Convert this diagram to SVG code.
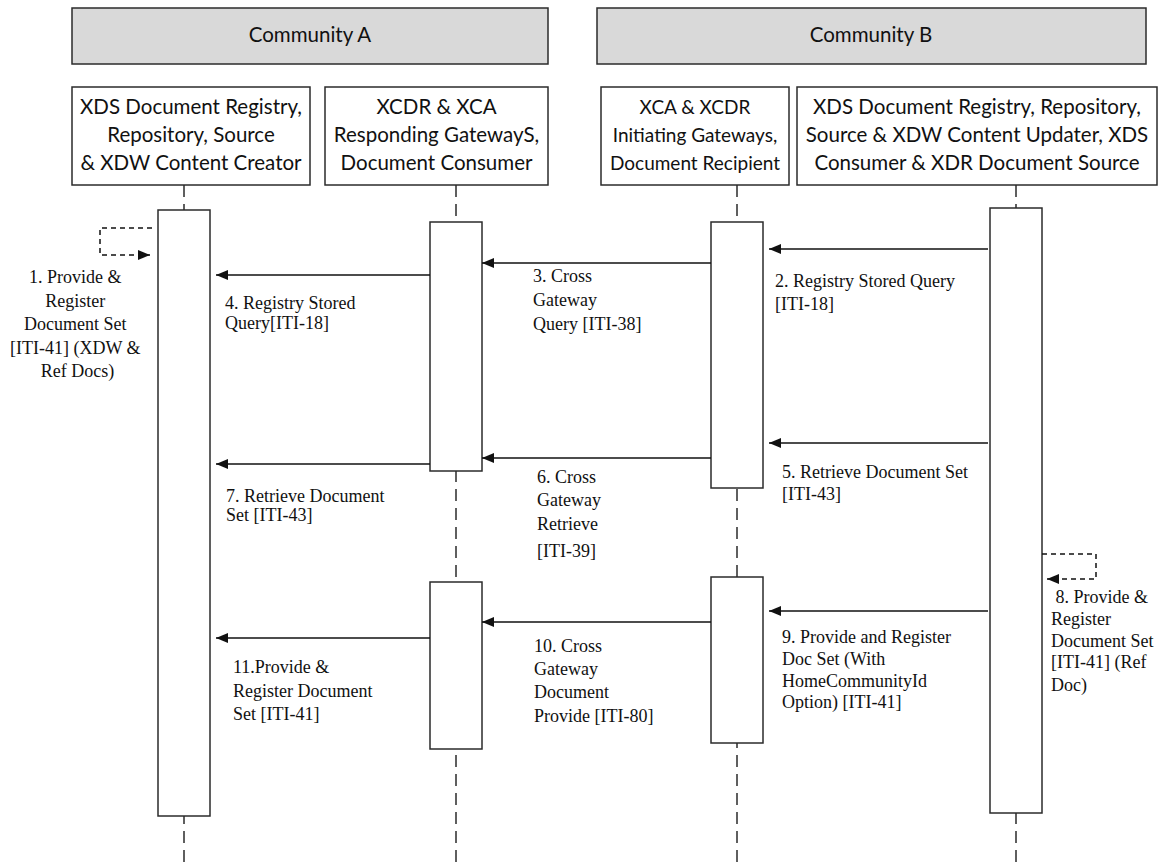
<svg xmlns="http://www.w3.org/2000/svg" width="1164" height="863" viewBox="0 0 1164 863">
<style>
.comm{fill:#d9d9d9;stroke:#2b2b2b;stroke-width:1.5}
.box{fill:#fff;stroke:#2b2b2b;stroke-width:1.5}
.bar{fill:#fff;stroke:#2b2b2b;stroke-width:1.5}
.ct{font-family:Lato,"Liberation Sans",sans-serif;font-size:20.5px;fill:#111;text-anchor:middle}
.ct.sm{font-size:19px}
.lab{font-family:"Liberation Serif","Times New Roman",serif;font-size:18px;fill:#111}
.life{stroke:#2b2b2b;stroke-width:1.5;stroke-dasharray:12 7;fill:none}
.msg{stroke:#111;stroke-width:1.5;fill:none;marker-end:url(#ah)}
.loop{stroke:#111;stroke-width:1.5;fill:none;stroke-dasharray:5 4;marker-end:url(#ah)}
</style>
<defs>
<marker id="ah" markerUnits="userSpaceOnUse" markerWidth="12" markerHeight="10" refX="12" refY="5" orient="auto">
<path d="M0,0 L12,5 L0,10 z" fill="#111"/>
</marker>
</defs>
<rect width="1164" height="863" fill="#fff"/>

<g id="community-a">
<rect class="comm" x="72" y="8" width="476" height="56"/>
<text class="ct" x="310" y="42">Community A</text>
</g>
<g id="community-b">
<rect class="comm" x="597" y="8" width="549" height="56"/>
<text class="ct" x="871" y="42">Community B</text>
</g>

<g id="lifelines">
<line class="life" x1="184" y1="185" x2="184" y2="863"/>
<line class="life" x1="456" y1="185" x2="456" y2="863"/>
<line class="life" x1="737" y1="185" x2="737" y2="863"/>
<line class="life" x1="1016" y1="185" x2="1016" y2="863"/>
</g>

<g id="node1">
<rect class="box" x="72" y="87" width="238" height="98"/>
<text class="ct" x="191" y="114">XDS Document Registry,</text>
<text class="ct" x="191" y="142">Repository, Source</text>
<text class="ct" x="191" y="170">&amp; XDW Content Creator</text>
<rect class="bar" x="158" y="210" width="52" height="606"/>
</g>
<g id="node2">
<rect class="box" x="325" y="87" width="223" height="98"/>
<text class="ct" x="436.5" y="114">XCDR &amp; XCA</text>
<text class="ct" x="436.5" y="142">Responding GatewayS,</text>
<text class="ct" x="436.5" y="170">Document Consumer</text>
<rect class="bar" x="430" y="222" width="52" height="249"/>
<rect class="bar" x="430" y="582" width="52" height="167"/>
</g>
<g id="node3">
<rect class="box" x="601" y="87" width="188" height="98"/>
<text class="ct sm" x="695" y="114">XCA &amp; XCDR</text>
<text class="ct sm" x="695" y="142">Initiating Gateways,</text>
<text class="ct sm" x="695" y="170">Document Recipient</text>
<rect class="bar" x="711" y="222" width="52" height="266"/>
<rect class="bar" x="711" y="577" width="52" height="166"/>
</g>
<g id="node4">
<rect class="box" x="797" y="87" width="360" height="98"/>
<text class="ct" x="977" y="114">XDS Document Registry, Repository,</text>
<text class="ct" x="977" y="142">Source &amp; XDW Content Updater, XDS</text>
<text class="ct" x="977" y="170">Consumer &amp; XDR Document Source</text>
<rect class="bar" x="990" y="208" width="52" height="605"/>
</g>

<g id="connectors">
<path class="loop" d="M152,228 H100 V255 H150"/>
<line class="msg" x1="988" y1="249" x2="769" y2="249"/>
<line class="msg" x1="711" y1="263" x2="482" y2="263"/>
<line class="msg" x1="430" y1="275" x2="216" y2="275"/>
<line class="msg" x1="988" y1="443" x2="769" y2="443"/>
<line class="msg" x1="711" y1="458" x2="482" y2="458"/>
<line class="msg" x1="430" y1="464" x2="216" y2="464"/>
<path class="loop" d="M1042,554 H1096 V579 H1047"/>
<line class="msg" x1="988" y1="611" x2="769" y2="611"/>
<line class="msg" x1="711" y1="622" x2="482" y2="622"/>
<line class="msg" x1="430" y1="638" x2="216" y2="638"/>
</g>

<g id="labels">
<text class="lab" text-anchor="middle">
<tspan x="77.5" y="283">1. Provide &amp;</tspan>
<tspan x="77.5" y="307">Register</tspan>
<tspan x="77.5" y="330">Document Set</tspan>
<tspan x="77.5" y="354">[ITI-41] (XDW &amp;</tspan>
<tspan x="77.5" y="377">Ref Docs)</tspan>
</text>
<text class="lab"><tspan x="775" y="287">2. Registry Stored Query</tspan><tspan x="775" y="310">[ITI-18]</tspan></text>
<text class="lab"><tspan x="533" y="282">3. Cross</tspan><tspan x="533" y="306">Gateway</tspan><tspan x="533" y="330">Query [ITI-38]</tspan></text>
<text class="lab"><tspan x="225" y="309">4. Registry Stored</tspan><tspan x="225" y="329">Query[ITI-18]</tspan></text>
<text class="lab"><tspan x="782" y="478">5. Retrieve Document Set</tspan><tspan x="782" y="500">[ITI-43]</tspan></text>
<text class="lab"><tspan x="537" y="483">6. Cross</tspan><tspan x="537" y="506">Gateway</tspan><tspan x="537" y="530">Retrieve</tspan><tspan x="537" y="557">[ITI-39]</tspan></text>
<text class="lab"><tspan x="226" y="502">7. Retrieve Document</tspan><tspan x="226" y="521">Set [ITI-43]</tspan></text>
<text class="lab"><tspan x="1051" y="603" xml:space="preserve"> 8. Provide &amp;</tspan><tspan x="1051" y="625">Register</tspan><tspan x="1051" y="647">Document Set</tspan><tspan x="1051" y="668">[ITI-41] (Ref</tspan><tspan x="1051" y="691">Doc)</tspan></text>
<text class="lab"><tspan x="782" y="643">9. Provide and Register</tspan><tspan x="782" y="665">Doc Set (With</tspan><tspan x="782" y="687">HomeCommunityId</tspan><tspan x="782" y="708">Option) [ITI-41]</tspan></text>
<text class="lab"><tspan x="534" y="652">10. Cross</tspan><tspan x="534" y="675">Gateway</tspan><tspan x="534" y="698">Document</tspan><tspan x="534" y="722">Provide [ITI-80]</tspan></text>
<text class="lab"><tspan x="233" y="673">11.Provide &amp;</tspan><tspan x="233" y="697">Register Document</tspan><tspan x="233" y="720">Set [ITI-41]</tspan></text>
</g>
</svg>
